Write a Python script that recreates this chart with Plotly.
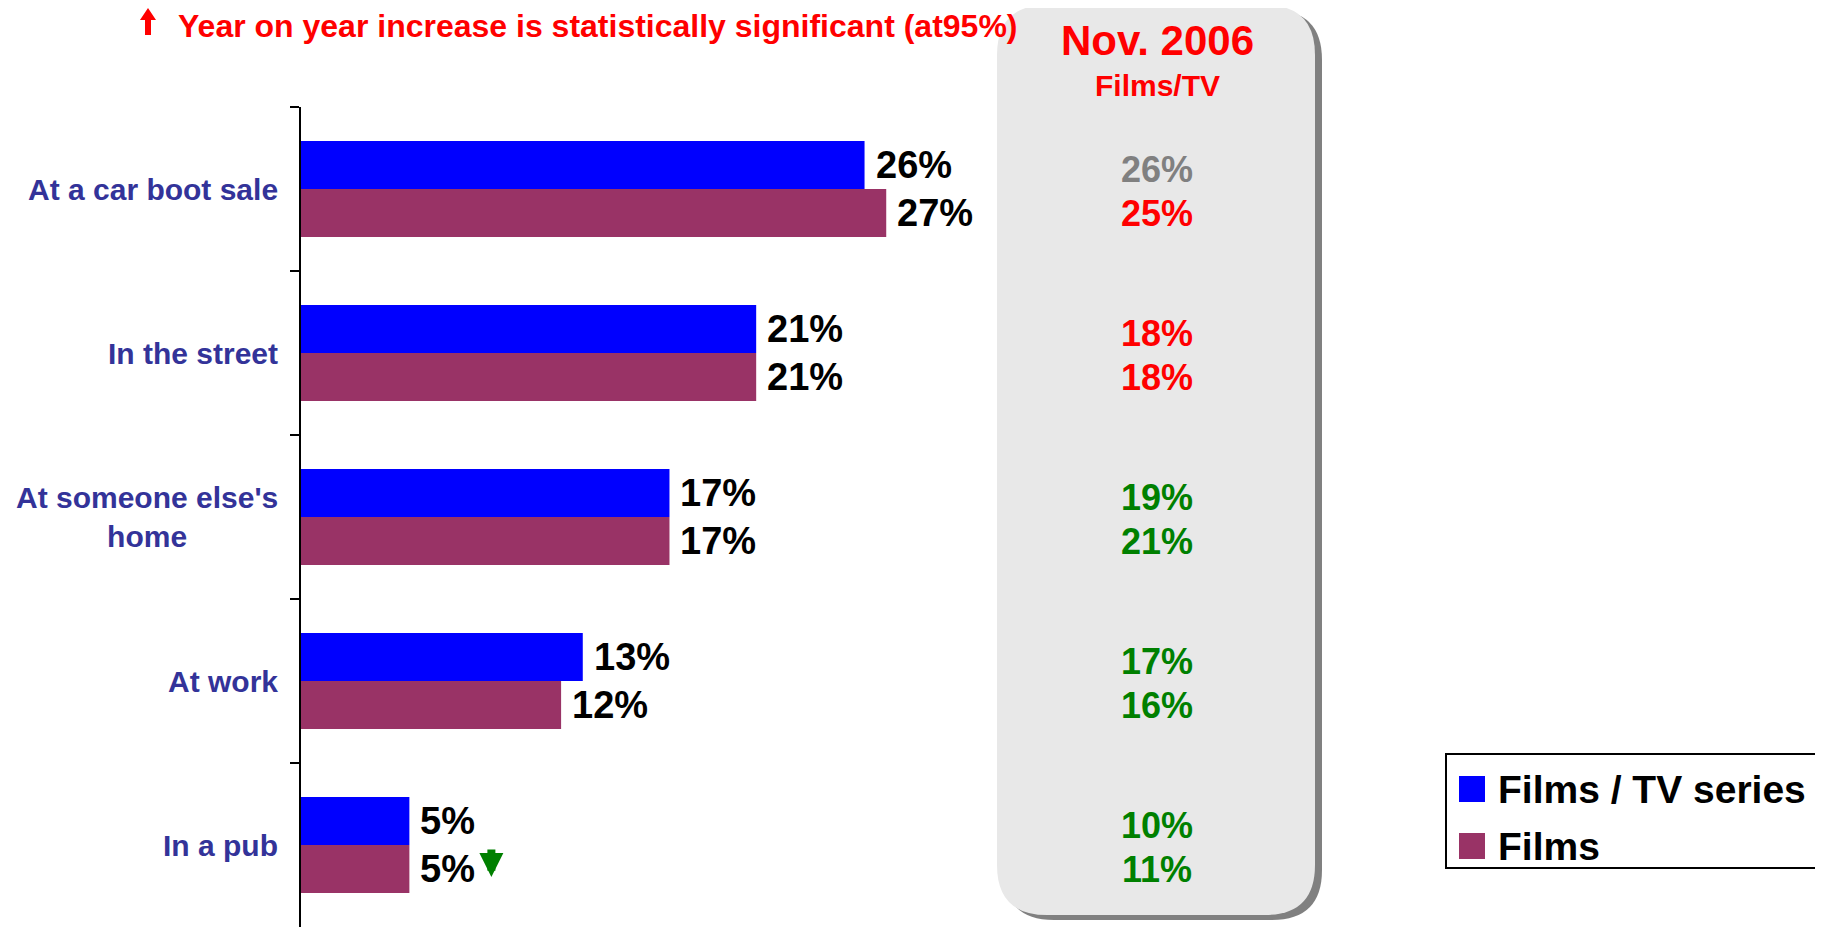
import plotly.graph_objects as go

# ---------------- data ----------------
categories = ["At a car boot sale", "In the street", "At someone else's home", "At work", "In a pub"]
category_labels = ["At a car boot sale", "In the street", "At someone else's<br>home", "At work", "In a pub"]
series_names = ["Films / TV series", "Films"]
series_colors = ["#0000FF", "#993366"]
films_tv = [26, 21, 17, 13, 5]
films = [27, 21, 17, 12, 5]

panel_title = "Nov. 2006"
panel_subtitle = "Films/TV"
nov2006_films_tv = [26, 18, 19, 17, 10]
nov2006_films = [25, 18, 21, 16, 11]
nov2006_films_tv_colors = ["#808080", "#FF0000", "#008000", "#008000", "#008000"]
nov2006_films_colors = ["#FF0000", "#FF0000", "#008000", "#008000", "#008000"]

note_text = "Year on year increase is statistically significant (at95%)"
# significant decreases: (category index, series index)
significant_down = [(4, 1)]

# ---------------- layout helpers ----------------
W, H = 1823, 930
OFF = 8                                # browser body margin
PL, PR, PT, PB = 301, 1168, 107, 927   # plot area in page pixels
X_MAX = 40
FONT = "Liberation Sans, Arial, sans-serif"


def px(x):
    return (x - PL) / (PR - PL)


def py(y):
    return (PB - y) / (PB - PT)


def path_from(cmds):
    s = ""
    for cmd, ps in cmds:
        s += cmd + " " + " ".join(f"{px(a):.5f},{py(b):.5f}" for a, b in ps) + " "
    return s + "Z"


def rounded_path(x0, y0, x1, y1, r):
    return path_from([
        ("M", [(x0 + r, y0)]),
        ("L", [(x1 - r, y0)]),
        ("Q", [(x1, y0), (x1, y0 + r)]),
        ("L", [(x1, y1 - r)]),
        ("Q", [(x1, y1), (x1 - r, y1)]),
        ("L", [(x0 + r, y1)]),
        ("Q", [(x0, y1), (x0, y1 - r)]),
        ("L", [(x0, y0 + r)]),
        ("Q", [(x0, y0), (x0 + r, y0)]),
    ])


def up_arrow_path(cx, top, bottom, head_w, head_h, stem_w):
    return path_from([
        ("M", [(cx, top)]),
        ("L", [(cx + head_w / 2, top + head_h)]),
        ("L", [(cx + stem_w / 2, top + head_h)]),
        ("L", [(cx + stem_w / 2, bottom)]),
        ("L", [(cx - stem_w / 2, bottom)]),
        ("L", [(cx - stem_w / 2, top + head_h)]),
        ("L", [(cx - head_w / 2, top + head_h)]),
    ])


fig = go.Figure()
for name, vals, col in zip(series_names, [films_tv, films], series_colors):
    fig.add_trace(go.Bar(
        y=categories, x=vals, name=name, orientation="h",
        marker=dict(color=col, line=dict(width=0)),
        showlegend=False, hoverinfo="x+y",
    ))

annotations = []
shapes = []

# bar value labels
for si, vals in enumerate([films_tv, films]):
    for ci, v in enumerate(vals):
        annotations.append(dict(
            x=v, y=categories[ci], xref="x", yref="y", text=f"{v}%",
            showarrow=False, xanchor="left", yanchor="middle",
            xshift=9, yshift=24 if si == 0 else -24,
            font=dict(family=FONT, size=38, color="black", weight="bold"),
        ))

# category labels
for ci, lab in enumerate(category_labels):
    annotations.append(dict(
        x=0, y=categories[ci], xref="paper", yref="y", text=lab,
        showarrow=False, xanchor="right", yanchor="middle", align="center",
        xshift=-21,
        font=dict(family=FONT, size=30, color="#333399", weight="bold"),
    ))

# side panel (shadow + panel)
shapes.append(dict(type="path", xref="paper", yref="paper",
                   path=rounded_path(1004, 10, 1322, 920, 50),
                   fillcolor="#808080", line=dict(width=0), layer="below"))
shapes.append(dict(type="path", xref="paper", yref="paper",
                   path=rounded_path(997, 5, 1315, 915, 50),
                   fillcolor="#E8E8E8", line=dict(width=0), layer="below"))

annotations.append(dict(
    x=px(1157), y=py(41), xref="paper", yref="paper", text=panel_title,
    showarrow=False, xanchor="center", yanchor="middle",
    font=dict(family=FONT, size=42, color="#FF0000", weight="bold"),
))
annotations.append(dict(
    x=px(1157), y=py(86), xref="paper", yref="paper", text=panel_subtitle,
    showarrow=False, xanchor="center", yanchor="middle",
    font=dict(family=FONT, size=30, color="#FF0000", weight="bold"),
))
for si, (vals, cols) in enumerate([(nov2006_films_tv, nov2006_films_tv_colors),
                                   (nov2006_films, nov2006_films_colors)]):
    for ci, v in enumerate(vals):
        annotations.append(dict(
            x=px(1157), y=categories[ci], xref="paper", yref="y", text=f"{v}%",
            showarrow=False, xanchor="center", yanchor="middle",
            yshift=20 if si == 0 else -24,
            font=dict(family=FONT, size=36, color=cols[ci], weight="bold"),
        ))

# note at top
annotations.append(dict(
    x=px(176), y=py(26), xref="paper", yref="paper", text=note_text,
    showarrow=False, xanchor="left", yanchor="middle",
    font=dict(family=FONT, size=32, color="#FF0000", weight="bold"),
))
shapes.append(dict(type="path", xref="paper", yref="paper",
                   path=up_arrow_path(148, 8, 35, 16, 12, 6),
                   fillcolor="#FF0000", line=dict(width=0)))

# significance arrows
for ci, si in significant_down:
    v = [films_tv, films][si][ci]
    annotations.append(dict(
        x=v, y=categories[ci], xref="x", yref="y", text="",
        showarrow=True, ax=0, ay=-29, arrowhead=2, arrowwidth=8, arrowsize=0.6,
        arrowcolor="#008000", xshift=82, yshift=-32 if si == 1 else 16,
    ))

# custom legend
shapes.append(dict(type="rect", xref="paper", yref="paper",
                   x0=px(1446), x1=px(1840), y0=py(868), y1=py(754),
                   line=dict(color="black", width=2), fillcolor="white"))
for i, (name, col) in enumerate(zip(series_names, series_colors)):
    yc = 789 + 57 * i
    shapes.append(dict(type="rect", xref="paper", yref="paper",
                       x0=px(1459), x1=px(1485), y0=py(yc + 13), y1=py(yc - 13),
                       line=dict(width=0), fillcolor=col))
    annotations.append(dict(
        x=px(1496), y=py(yc), xref="paper", yref="paper", text=name,
        showarrow=False, xanchor="left", yanchor="middle",
        font=dict(family=FONT, size=39, color="black", weight="bold"),
    ))

fig.update_layout(
    width=W - OFF, height=H - OFF,
    margin=dict(l=PL - OFF, r=W - PR, t=PT - OFF, b=H - PB, pad=0),
    paper_bgcolor="white", plot_bgcolor="white",
    barmode="group", bargap=0.415, bargroupgap=0,
    showlegend=False,
    annotations=annotations, shapes=shapes,
    font=dict(family=FONT),
)
fig.update_xaxes(range=[0, X_MAX], showgrid=False, zeroline=False,
                 showticklabels=False, showline=False, ticks="")
fig.update_yaxes(categoryorder="array", categoryarray=categories,
                 autorange="reversed", showgrid=False, zeroline=False,
                 showline=True, linecolor="black", linewidth=2,
                 ticks="outside", tickson="boundaries", ticklen=9,
                 tickwidth=2, tickcolor="black", showticklabels=False)

fig.write_html("out.html")
